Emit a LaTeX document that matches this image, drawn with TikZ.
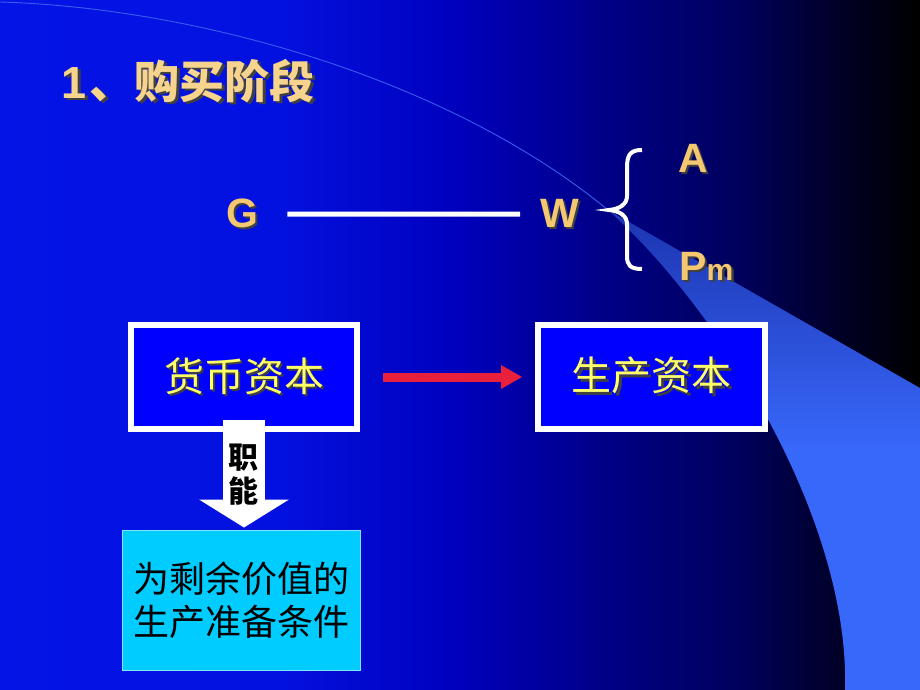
\documentclass[tikz,border=0pt]{standalone}
\usepackage{fontspec}
\setmainfont{Liberation Sans}
\newfontfamily\cjk{Noto Sans CJK SC}
\usetikzlibrary{arrows.meta}
\definecolor{gold}{HTML}{F4C870}
\definecolor{titlegold}{HTML}{F6D48E}
\definecolor{boxyellow}{HTML}{FFFF66}
\definecolor{slideblue}{HTML}{0000FF}
\definecolor{arrowred}{HTML}{E8203C}
\definecolor{condcyan}{HTML}{00CCFF}
\definecolor{condline}{HTML}{80E4FF}
\definecolor{swoosh}{HTML}{3A5CF0}
\definecolor{band}{HTML}{3868FA}
\definecolor{banddark}{HTML}{1C34B0}
\definecolor{bgA}{HTML}{0414E6}
\definecolor{bgB}{HTML}{0000BC}
\definecolor{bgC}{HTML}{000088}
\definecolor{bgD}{HTML}{00005C}
\definecolor{bgE}{HTML}{00001C}
\pgfdeclarehorizontalshading{slidebg}{100bp}{color(0bp)=(bgA); color(25bp)=(bgA); color(40bp)=(bgA!85!bgB); color(50bp)=(bgB); color(57.6bp)=(bgC); color(65.2bp)=(bgD); color(71.7bp)=(bgE); color(75bp)=(black); color(100bp)=(black)}
\pgfdeclareverticalshading{bandshade}{100bp}{color(0bp)=(band); color(50bp)=(band); color(75bp)=(banddark); color(100bp)=(banddark)}
\newcommand{\shd}[1]{\rlap{\kern2.5pt\raisebox{-2.5pt}{\color{black!75}#1}}#1}

\begin{document}
\begin{tikzpicture}[x=1pt, y=-1pt,
  letter/.style={text=gold, font=\fontsize{41}{41}\selectfont\bfseries, inner sep=0pt, anchor=base west},
  capbox/.style={draw=white, line width=6pt, fill=slideblue, minimum width=226pt, minimum height=104pt, text=boxyellow, font=\cjk\fontsize{40}{40}\selectfont},
  condbox/.style={draw=condline, line width=1pt, fill=condcyan, minimum width=238pt, minimum height=140pt, text=black, align=center, font=\cjk\fontsize{36}{43}\selectfont}]

\shade[shading=slidebg] (0,0) rectangle (920,690);
\useasboundingbox (0,0) rectangle (920,690);
\draw[swoosh, line width=0.9pt] (0,2) .. controls (200,8) and (450,80) .. (608,210);
\shade[shading=bandshade] (608,210) -- (920,388) -- (920,690) -- (845,690) .. controls (850,520) and (720,310) .. (608,210) -- cycle;

\draw(58,82) node[anchor=west, text=titlegold, font=\fontsize{45}{45}\selectfont\bfseries] (title) {\shd{1}\hspace{3pt}\shd{\cjk 、购买阶段}};

\draw(226,227) node[letter] (G) {\shd{G}};
\draw(540,227) node[letter] (W) {\shd{W}};
\draw[white, line width=5pt, shorten <=29pt, shorten >=20pt] (G.east) -- (W.west);
\draw[white, line width=4pt] (642,150) .. controls (630,150) and (627,155) .. (627,168) -- (627,196) .. controls (627,204) and (620,209) .. (609,210) .. controls (620,211) and (627,216) .. (627,224) -- (627,256) .. controls (627,265) and (630,269) .. (642,269);
\draw(678,172) node[letter] (A) {\shd{A}};
\draw(679,280) node[letter] (Pm) {\shd{P}\shd{\fontsize{30}{30}\selectfont m}};

\draw(244,377) node[capbox] (hb) {\shd{货币资本}};
\draw(651.5,377) node[capbox, minimum width=227pt] (sc) {\shd{生产资本}};
\draw[arrowred, line width=9pt, -{Triangle[width=24pt, length=21pt, line width=0pt]}, shorten <=23pt, shorten >=13pt] (hb) -- (sc);

\draw(241,600) node[condbox] (cond) {为剩余价值的\\生产准备条件};
\draw[white, line width=42pt, -{Triangle[width=90pt, length=28pt, line width=0pt]}, shorten <=-12pt, shorten >=2pt] (hb.south) -- (hb.south |- cond.north);
\draw(243,475) node[text=black, font=\cjk\bfseries\fontsize{30}{34}\selectfont, align=center] (zn) {职\\能};

\end{tikzpicture}
\end{document}
